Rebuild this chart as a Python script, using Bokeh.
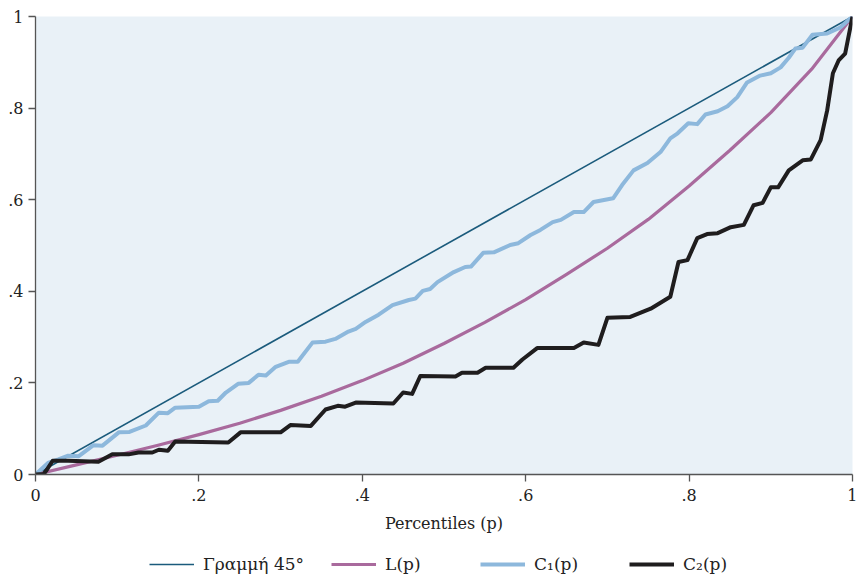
from bokeh.plotting import figure
from bokeh.layouts import column
from bokeh.models import FixedTicker, Legend, LegendItem, Range1d
from bokeh.embed import file_html
from bokeh.resources import INLINE

# ---- data ----
diag_p = [0, 1]
diag_v = [0, 1]

L_p = [0, .05, .1, .15, .2, .25, .3, .35, .4, .45, .5, .55, .6, .65, .7, .75, .8, .85, .9, .95, 1]
L_v = [0, .021, .042, .064, .087, .112, .140, .171, .205, .243, .286, .332, .382, .437, .494, .557, .630, .708, .790, .885, 1]

C1_p = [0, .008, .016, .028, .040, .053, .071, .082, .102, .115, .135, .151, .162, .171, .200, .212, .223,
        .233, .248, .261, .273, .282, .294, .310, .321, .339, .355, .367, .383, .392, .404, .420, .437,
        .457, .465, .474, .483, .492, .512, .526, .533, .548, .561, .581, .591, .606, .618, .633, .643,
        .659, .671, .683, .707, .718, .732, .749, .765, .777, .786, .799, .810, .820, .835, .847, .859,
        .871, .887, .900, .912, .922, .930, .939, .951, .969, .985, 1]
C1_v = [0, .013, .026, .033, .041, .040, .064, .063, .092, .093, .107, .135, .134, .146, .148, .160, .161,
        .179, .198, .200, .218, .216, .235, .246, .246, .288, .290, .296, .312, .318, .333, .349, .370,
        .381, .384, .401, .405, .420, .442, .453, .454, .484, .485, .501, .505, .523, .534, .551, .556,
        .573, .573, .595, .603, .632, .664, .680, .704, .734, .745, .767, .765, .786, .793, .804, .824,
        .856, .871, .876, .889, .910, .930, .932, .960, .963, .976, 1]

C2_p = [0, .010, .013, .021, .040, .077, .094, .114, .126, .143, .151, .162, .171, .236, .251, .300, .312,
        .337, .355, .370, .379, .392, .438, .450, .461, .471, .514, .522, .541, .551, .585, .596, .614,
        .659, .671, .689, .700, .728, .753, .777, .787, .798, .810, .822, .835, .851, .867, .879, .890,
        .900, .909, .922, .939, .949, .961, .969, .976, .983, .991, 1]
C2_v = [0, .001, .008, .030, .030, .028, .044, .044, .048, .048, .054, .052, .072, .070, .092, .092, .108,
        .106, .142, .150, .148, .157, .155, .179, .176, .215, .214, .222, .222, .233, .233, .251, .276,
        .276, .288, .283, .342, .344, .362, .388, .464, .468, .516, .525, .527, .540, .545, .588, .593,
        .627, .627, .664, .686, .688, .730, .795, .876, .904, .919, 1]

tick_vals = [0, .2, .4, .6, .8, 1]
tick_labels = ["0", ".2", ".4", ".6", ".8", "1"]
series_labels = ["Γραμμή 45°", "L(p)", "C₁(p)", "C₂(p)"]
x_title = "Percentiles (p)"

FONT = "DejaVu Serif"
COLORS = ["#1b5b7c", "#a96a9d", "#8db8dc", "#1f1d1e"]
WIDTHS = [1.6, 3.2, 4, 4]
series_p = [diag_p, L_p, C1_p, C2_p]
series_v = [diag_v, L_v, C1_v, C2_v]

p = figure(width=857, height=535,
           x_range=Range1d(0, 1), y_range=Range1d(0, 1),
           output_backend="svg", toolbar_location=None,
           min_border_left=35, min_border_top=16, min_border_right=5, min_border_bottom=60,
           background_fill_color="#e9f1f7", border_fill_color="white",
           outline_line_color=None)
p.xgrid.visible = False
p.ygrid.visible = False

for ax in (p.xaxis[0], p.yaxis[0]):
    ax.ticker = FixedTicker(ticks=tick_vals)
    ax.major_label_overrides = {v: s for v, s in zip(tick_vals, tick_labels)}
    ax.minor_tick_line_color = None
    ax.major_tick_in = 0
    ax.major_tick_out = 7
    ax.axis_line_color = "#555555"
    ax.major_tick_line_color = "#555555"
    ax.axis_line_width = 1.3
    ax.major_tick_line_width = 1.3
    ax.major_label_text_font = FONT
    ax.major_label_text_font_size = "16px"
    ax.major_label_text_color = "#222222"

p.yaxis[0].major_label_standoff = 5
p.xaxis[0].major_label_standoff = 7
p.xaxis[0].axis_label = x_title
p.xaxis[0].axis_label_text_font = FONT
p.xaxis[0].axis_label_text_font_size = "16px"
p.xaxis[0].axis_label_text_font_style = "normal"
p.xaxis[0].axis_label_text_color = "#222222"
p.xaxis[0].axis_label_standoff = 10

for xs, ys, c, w in zip(series_p, series_v, COLORS, WIDTHS):
    p.line(xs, ys, line_color=c, line_width=w, line_join="round")

# legend strip below (its renderers lie outside its visible range)
p2 = figure(width=857, height=39, x_range=Range1d(0, 1), y_range=Range1d(5, 6),
            output_backend="svg", toolbar_location=None,
            min_border_left=0, min_border_right=0, min_border_top=0, min_border_bottom=0,
            background_fill_color="white", border_fill_color="white", outline_line_color=None)
p2.xaxis.visible = False
p2.yaxis.visible = False
p2.xgrid.visible = False
p2.ygrid.visible = False
dummies = [p2.line(xs, ys, line_color=c, line_width=w)
           for xs, ys, c, w in zip(series_p, series_v, COLORS, WIDTHS)]

legend = Legend(items=[LegendItem(label=lab, renderers=[r]) for lab, r in zip(series_labels, dummies)],
                orientation="horizontal", location=(114, 0),
                glyph_width=45, glyph_height=18, label_height=18, label_standoff=9, label_width=68,
                spacing=27, padding=0, margin=0,
                border_line_color=None, background_fill_alpha=0,
                label_text_font=FONT, label_text_font_size="17px", label_text_color="#222222")
p2.add_layout(legend, "center")

layout = column(p, p2, spacing=0)
open("out.html", "w").write(file_html(layout, INLINE))
